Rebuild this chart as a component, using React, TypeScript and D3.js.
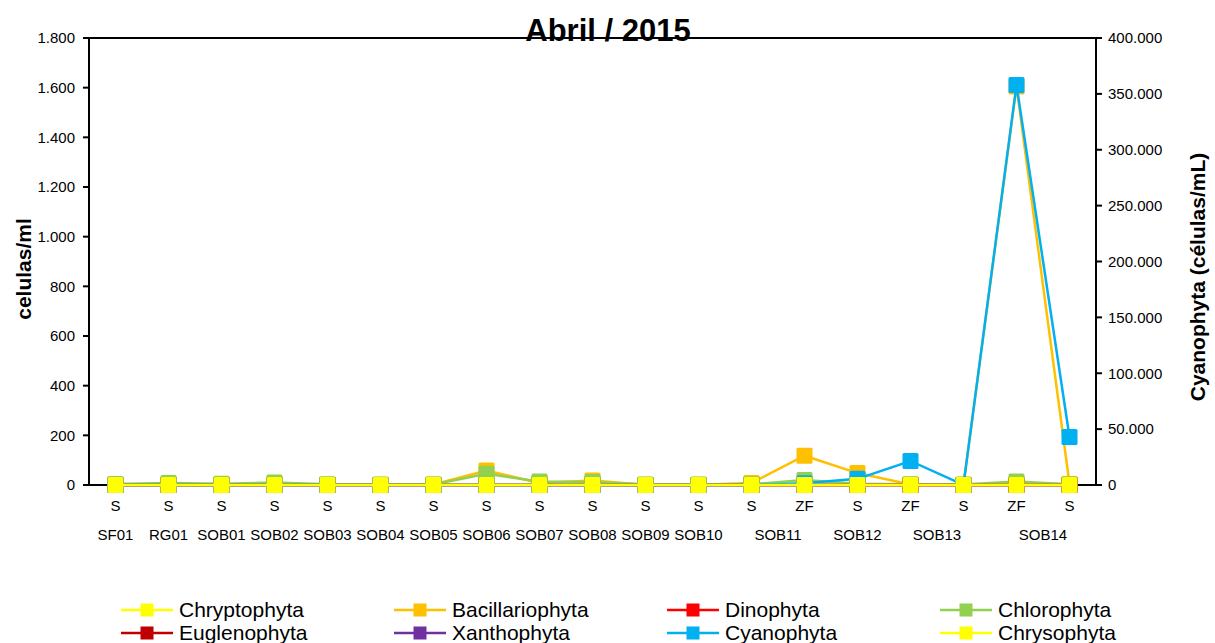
import React from 'react';
import * as d3 from 'd3';

// points along the x axis (sample depth + station)
const depths = ['S', 'S', 'S', 'S', 'S', 'S', 'S', 'S', 'S', 'S', 'S', 'S', 'S', 'ZF', 'S', 'ZF', 'S', 'ZF', 'S'];
const stations = ['SF01', 'RG01', 'SOB01', 'SOB02', 'SOB03', 'SOB04', 'SOB05', 'SOB06', 'SOB07', 'SOB08',
  'SOB09', 'SOB10', 'SOB11', 'SOB11', 'SOB12', 'SOB13', 'SOB13', 'SOB14', 'SOB14'];

const chryptophyta = [0, 0, 0, 0, 0, 0, 0, 0, 0, 0, 0, 0, 0, 0, 0, 0, 0, 0, 0];
const bacillariophyta = [2, 3, 2, 3, 1, 1, 2, 58, 8, 18, 1, 1, 8, 118, 48, 2, 1, 1605, 4];
const dinophyta = [0, 0, 0, 0, 0, 0, 0, 0, 0, 0, 0, 0, 0, 0, 0, 0, 0, 0, 0];
const chlorophyta = [4, 8, 5, 10, 3, 2, 2, 45, 14, 12, 2, 2, 3, 20, 5, 3, 2, 14, 3];
const euglenophyta = [0, 0, 0, 0, 0, 0, 0, 0, 0, 0, 0, 0, 0, 0, 0, 0, 0, 0, 0];
const xanthophyta = [0, 0, 0, 0, 0, 0, 0, 0, 0, 0, 0, 0, 0, 0, 0, 0, 0, 0, 0];
const cyanophyta = [0, 0, 0, 0, 0, 0, 0, 0, 0, 0, 0, 0, 0, 1500, 5500, 21500, 0, 358000, 43000];
const chrysophyta = [0, 0, 0, 0, 0, 0, 0, 0, 0, 0, 0, 0, 0, 0, 0, 0, 0, 0, 0];

const leftTicks = [0, 200, 400, 600, 800, 1000, 1200, 1400, 1600, 1800];
const rightTicks = [0, 50000, 100000, 150000, 200000, 250000, 300000, 350000, 400000];

const series = [
  { name: 'Chryptophyta', values: chryptophyta, color: '#FFFF00', right: false },
  { name: 'Bacillariophyta', values: bacillariophyta, color: '#FFC000', right: false },
  { name: 'Dinophyta', values: dinophyta, color: '#FF0000', right: false },
  { name: 'Chlorophyta', values: chlorophyta, color: '#92D050', right: false },
  { name: 'Euglenophyta', values: euglenophyta, color: '#C00000', right: false },
  { name: 'Xanthophyta', values: xanthophyta, color: '#7030A0', right: false },
  { name: 'Cyanophyta', values: cyanophyta, color: '#00B0F0', right: true },
  { name: 'Chrysophyta', values: chrysophyta, color: '#FFFF00', right: false },
];

// legend order differs from drawing order
const legendOrder = ['Chryptophyta', 'Bacillariophyta', 'Dinophyta', 'Chlorophyta',
  'Euglenophyta', 'Xanthophyta', 'Cyanophyta', 'Chrysophyta'];

const W = 1215;
const H = 643;
const left = 89, right = 1096, top = 38, bottom = 485;
const font = 'Arial, "Liberation Sans", sans-serif';
const fmt = (v: number) => d3.format(',')(v).replace(/,/g, '.');

export default function App() {
  const x = d3.scaleBand<number>()
    .domain(d3.range(depths.length))
    .range([left, right]);
  const xc = (i: number) => (x(i) as number) + x.bandwidth() / 2;
  const yL = d3.scaleLinear().domain([0, 1800]).range([bottom, top]);
  const yR = d3.scaleLinear().domain([0, 400000]).range([bottom, top]);

  // group consecutive station labels
  const groups: { name: string; from: number; to: number }[] = [];
  stations.forEach((s, i) => {
    const g = groups[groups.length - 1];
    if (g && g.name === s) g.to = i;
    else groups.push({ name: s, from: i, to: i });
  });

  const ms = 16;

  return (
    <svg width={W} height={H} style={{ position: 'absolute', left: 0, top: 0, fontFamily: font }}>
      <rect x={0} y={0} width={W} height={H} fill="#fff" />

      {/* frame */}
      <rect x={left} y={top} width={right - left} height={bottom - top} fill="none" stroke="#000" strokeWidth={2} />

      {/* left axis */}
      {leftTicks.map(t => (
        <g key={'l' + t}>
          <line x1={left - 6} x2={left} y1={yL(t)} y2={yL(t)} stroke="#000" strokeWidth={2} />
          <text x={left - 14} y={yL(t)} dy="0.35em" textAnchor="end" fontSize={15}>{fmt(t)}</text>
        </g>
      ))}
      {/* right axis */}
      {rightTicks.map(t => (
        <g key={'r' + t}>
          <line x1={right} x2={right + 6} y1={yR(t)} y2={yR(t)} stroke="#000" strokeWidth={2} />
          <text x={right + 12} y={yR(t)} dy="0.35em" textAnchor="start" fontSize={15}>{fmt(t)}</text>
        </g>
      ))}

      {/* category labels */}
      {depths.map((d, i) => (
        <text key={'d' + i} x={xc(i)} y={511} textAnchor="middle" fontSize={15}>{d}</text>
      ))}
      {groups.map(g => (
        <text key={'g' + g.name} x={(xc(g.from) + xc(g.to)) / 2} y={540} textAnchor="middle" fontSize={15}>{g.name}</text>
      ))}

      {/* series */}
      {series.map(s => {
        const y = s.right ? yR : yL;
        const line = d3.line<number>().x((_, i) => xc(i)).y(v => y(v));
        return (
          <g key={s.name}>
            <path d={line(s.values) as string} fill="none" stroke={s.color} strokeWidth={2.5} />
            {s.values.map((v, i) => (
              <rect key={i} x={xc(i) - ms / 2} y={y(v) - ms / 2} width={ms} height={ms} rx={1.5}
                fill={s.color} />
            ))}
          </g>
        );
      })}

      {/* title */}
      <text x={608} y={41} textAnchor="middle" fontSize={31} fontWeight="bold">Abril / 2015</text>

      {/* axis titles */}
      <text transform={`translate(31,269) rotate(-90)`} textAnchor="middle" fontSize={21} fontWeight="bold">celulas/ml</text>
      <text transform={`translate(1205,277) rotate(-90)`} textAnchor="middle" fontSize={21} fontWeight="bold">Cyanophyta (células/mL)</text>

      {/* legend */}
      {legendOrder.map((name, k) => {
        const s = series.find(d => d.name === name)!;
        const col = k % 4;
        const row = Math.floor(k / 4);
        const lx = 121 + col * 273;
        const ly = 610 + row * 23;
        return (
          <g key={'lg' + name}>
            <line x1={lx} x2={lx + 52} y1={ly} y2={ly} stroke={s.color} strokeWidth={2.5} />
            <rect x={lx + 26 - 6.5} y={ly - 6.5} width={13} height={13} fill={s.color} />
            <text x={lx + 58} y={ly} dy="0.34em" fontSize={21}>{name}</text>
          </g>
        );
      })}
    </svg>
  );
}
